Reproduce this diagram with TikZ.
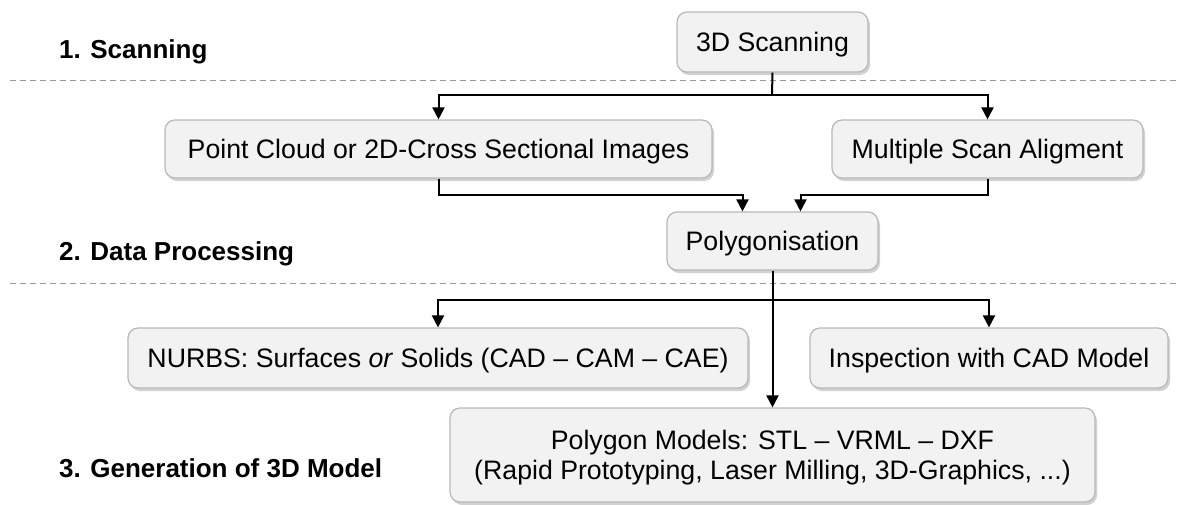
\documentclass[tikz,border=0pt]{standalone}
\usepackage{fontspec}
\setmainfont{Liberation Sans}
\usetikzlibrary{arrows.meta,shadows}
\begin{document}
\begin{tikzpicture}[x=0.5pt,y=-0.5pt,
  box/.style={draw=black!28,line width=0.6pt,fill=black!5,rounded corners=5pt,
    align=center,inner sep=0pt,text depth=0pt,font=\fontsize{13.35}{15}\selectfont,
    drop shadow={shadow xshift=1pt,shadow yshift=-1.5pt,opacity=0.3,fill=black!60}},
  lbl/.style={anchor=west,font=\fontsize{13}{15}\selectfont\bfseries},
  sep/.style={draw=black!40,dashed,line width=0.5pt,dash pattern=on 3pt off 2pt},
  conn/.style={line width=1pt,black},
  arr/.style={conn,-{Triangle[width=6pt,length=6pt]}}]
\useasboundingbox (0,0) rectangle (1179,504);
\draw[sep] (10,80) -- (1179,80);
\draw[sep] (10,283) -- (1179,283);
\node[lbl] (l1) at (52,52) {1. Scanning};
\node[lbl] (l2) at (52,254) {2. Data Processing};
\node[lbl] (l3) at (52,468) {3. Generation of 3D Model};
\node[box,minimum width=95.5pt,minimum height=30pt] (scan) at (772.5,42) {3D Scanning};
\node[box,minimum width=273.5pt,minimum height=29pt] (pc) at (438.5,149) {Point Cloud or 2D-Cross Sectional Images};
\node[box,minimum width=155.5pt,minimum height=29pt] (msa) at (987.5,149) {Multiple Scan Aligment};
\node[box,minimum width=105.5pt,minimum height=29pt] (poly) at (772.5,241) {Polygonisation};
\node[box,minimum width=310pt,minimum height=30pt] (nurbs) at (438,358) {NURBS: Surfaces \textit{or} Solids (CAD -- CAM -- CAE)};
\node[box,minimum width=179pt,minimum height=30pt] (insp) at (989,358) {Inspection with CAD Model};
\node[box,minimum width=322.5pt,minimum height=47pt] (pm) at (772.5,455) {Polygon Models: STL -- VRML -- DXF\\(Rapid Prototyping, Laser Milling, 3D-Graphics, ...)};
\coordinate (j1) at (772,95);
\coordinate (j2) at (772,195);
\coordinate (j3) at (772,300);
\draw[conn] (scan.south) -- (j1);
\draw[arr] (j1) -| (pc.north);
\draw[arr] (j1) -| (msa.north);
\draw[arr] (pc.south) -- (pc.south |- j2) -| ([xshift=-15pt]poly.north);
\draw[arr] (msa.south) -- (msa.south |- j2) -| ([xshift=14pt]poly.north);
\draw[arr] (poly.south) -- (pm.north);
\draw[arr] (j3) -| (nurbs.north);
\draw[arr] (j3) -| (insp.north);
\end{tikzpicture}
\end{document}
